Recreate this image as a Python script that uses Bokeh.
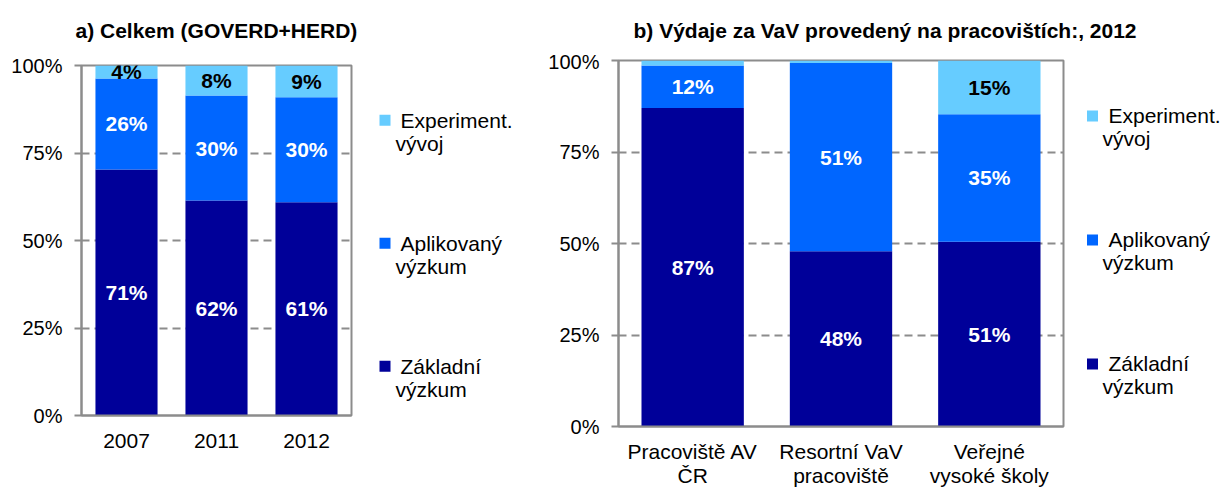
import numpy as np
from bokeh.plotting import figure
from bokeh.layouts import row, column
from bokeh.models import ColumnDataSource, Range1d, FactorRange, FixedTicker
from bokeh.core.properties import value
from bokeh.embed import file_html
from bokeh.resources import INLINE

FONT = "Liberation Sans"

# ---- data -------------------------------------------------------------
series_keys = ["basic", "applied", "experimental"]
series_colors = ["#000099", "#0066FF", "#66CCFF"]
label_colors = ["white", "white", "black"]

# legend (top to bottom), each entry wrapped on two lines
legend_line1 = ["Experiment.", "Aplikovaný", "Základní"]
legend_line2 = ["vývoj", "výzkum", "výzkum"]
legend_colors = ["#66CCFF", "#0066FF", "#000099"]

a_title = "a) Celkem (GOVERD+HERD)"
a_years = ["2007", "2011", "2012"]
a_basic = [70.3, 61.4, 60.9]
a_applied = [26.0, 30.0, 30.0]
a_experimental = [3.7, 8.6, 9.1]
a_basic_labels = ["71%", "62%", "61%"]
a_applied_labels = ["26%", "30%", "30%"]
a_experimental_labels = ["4%", "8%", "9%"]

b_title = "b) Výdaje za VaV provedený na pracovištích:, 2012"
b_sectors = ["Pracoviště AV\nČR", "Resortní VaV\npracoviště", "Veřejné\nvysoké školy"]
b_basic = [87.0, 47.9, 50.5]
b_applied = [11.6, 51.4, 34.8]
b_experimental = [1.4, 0.7, 14.7]
b_basic_labels = ["87%", "48%", "51%"]
b_applied_labels = ["12%", "51%", "35%"]
b_experimental_labels = ["", "", "15%"]

y_ticks = [0, 25, 50, 75, 100]
y_tick_labels = ["0%", "25%", "50%", "75%", "100%"]

GRAY = "#8c8c8c"
W = 1222
TITLE_H = 50
CHART_H = 439


def blank_figure(width, height):
    p = figure(width=width, height=height, x_range=Range1d(0, width),
               y_range=Range1d(height, 0), output_backend="svg",
               toolbar_location=None, min_border=0, x_axis_type=None,
               y_axis_type=None, title=None)
    p.outline_line_color = None
    p.grid.visible = False
    p.background_fill_color = "white"
    p.border_fill_color = "white"
    return p


def make_chart(cats, basic, applied, experimental, labels, width,
               bl, br, bt, bb, xlab_standoff):
    src = ColumnDataSource(dict(cat=cats, basic=basic, applied=applied,
                                experimental=experimental))
    p = figure(x_range=FactorRange(*cats, range_padding=0), y_range=Range1d(0, 100),
               width=width, height=CHART_H, output_backend="svg",
               toolbar_location=None, min_border_left=bl, min_border_right=br,
               min_border_top=bt, min_border_bottom=bb, title=None)
    p.vbar_stack(series_keys, x="cat", width=0.69, fill_color=series_colors,
                 line_color=None, source=src)

    b = np.array(basic, dtype=float)
    a = np.array(applied, dtype=float)
    e = np.array(experimental, dtype=float)
    centers = [b / 2, b + a / 2, b + a + e / 2]
    for yc, lab, col in zip(centers, labels, label_colors):
        p.text(x=cats, y=list(yc), text=lab, text_color=col,
               text_font=value(FONT), text_font_size="21px", text_font_style="bold",
               text_align="center", text_baseline="middle")

    p.outline_line_color = GRAY
    p.outline_line_width = 2
    p.xgrid.grid_line_color = None
    p.ygrid.grid_line_color = GRAY
    p.ygrid.grid_line_width = 2
    p.ygrid.grid_line_dash = "8 5"
    p.ygrid.ticker = FixedTicker(ticks=y_ticks)

    p.yaxis.ticker = FixedTicker(ticks=y_ticks)
    p.yaxis.major_label_overrides = dict(zip(y_ticks, y_tick_labels))
    p.yaxis.minor_tick_line_color = None
    p.yaxis.major_tick_in = 0
    p.yaxis.major_tick_out = 7
    p.yaxis.major_tick_line_color = GRAY
    p.yaxis.major_tick_line_width = 2
    p.yaxis.major_label_standoff = 12

    p.xaxis.major_tick_line_color = None
    p.xaxis.major_tick_in = 0
    p.xaxis.major_tick_out = 0
    p.xaxis.major_label_standoff = xlab_standoff
    p.xaxis.major_label_text_line_height = 1.05

    for ax in (p.xaxis, p.yaxis):
        ax.axis_line_color = GRAY
        ax.axis_line_width = 2
        ax.major_label_text_font = FONT
        ax.major_label_text_font_size = "20px"
        ax.major_label_text_color = "black"
    p.xaxis.major_label_text_font_size = "21px"
    p.background_fill_color = "white"
    p.border_fill_color = "white"
    return p


def make_legend(width, sq_x, t1_x, t2_x, mid_y, step):
    # mid_y: vertical middle of the first text line of the first entry
    p = blank_figure(width, CHART_H)
    n = len(legend_line1)
    y1 = [mid_y + i * step for i in range(n)]
    y2 = [y + 23 for y in y1]
    p.scatter(x=[sq_x] * n, y=y1, marker="square", size=11,
              fill_color=legend_colors, line_color=None)
    p.text(x=[t1_x] * n, y=y1, text=legend_line1, text_font=value(FONT),
           text_font_size="21px", text_color="black", text_align="left",
           text_baseline="middle")
    p.text(x=[t2_x] * n, y=y2, text=legend_line2, text_font=value(FONT),
           text_font_size="21px", text_color="black", text_align="left",
           text_baseline="middle")
    return p


# titles strip across the top of the page
tfig = blank_figure(W, TITLE_H)
tfig.text(x=[75, 633], y=[29.7, 29.7], text=[a_title, b_title], text_font=value(FONT),
          text_font_size="21px", text_font_style="bold", text_color="black",
          text_align="left", text_baseline="middle")

a_labels = [a_basic_labels, a_applied_labels, a_experimental_labels]
b_labels = [b_basic_labels, b_applied_labels, b_experimental_labels]

# chart a: frame x 81..351, page y 65..415
p1 = make_chart(a_years, a_basic, a_applied, a_experimental, a_labels,
                365, 81, 14, 15, 74, 18)
l1 = make_legend(165, 19.5, 35, 30, 69.7, 123)
# chart b: frame x 618..1063, page y 60..428
p2 = make_chart(b_sectors, b_basic, b_applied, b_experimental, b_labels,
                543, 88, 10, 10, 61, 13)
l2 = make_legend(149, 19, 35, 29, 65.4, 124)

layout = column(tfig, row(column(p1), column(l1), column(p2), column(l2)))

open("out.html", "w").write(file_html(layout, INLINE))
